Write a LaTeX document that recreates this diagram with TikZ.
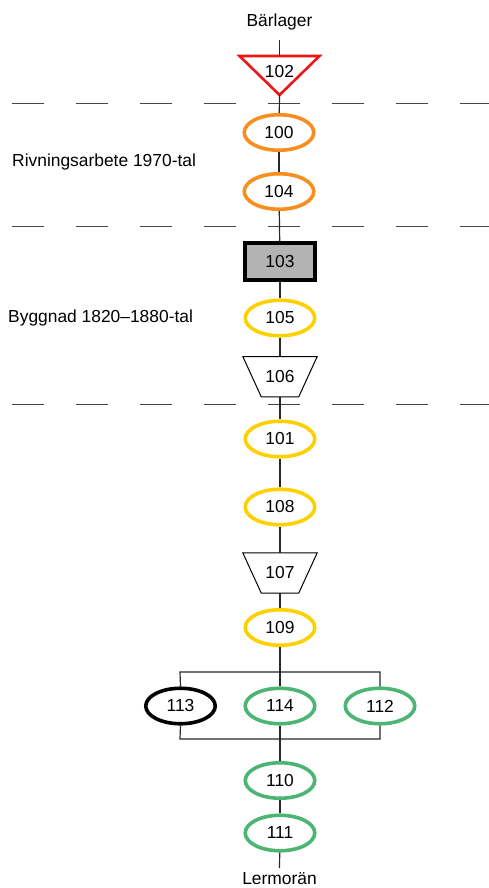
\documentclass[tikz,border=0pt]{standalone}
\usepackage{fontspec}
\setmainfont{Liberation Sans}
\usetikzlibrary{shapes.geometric,calc}
\definecolor{cOrange}{RGB}{247,142,30}
\definecolor{cYellow}{RGB}{255,208,0}
\definecolor{cGreen}{RGB}{76,181,115}
\definecolor{cRed}{RGB}{240,20,20}
\definecolor{cFill}{RGB}{179,179,179}
\definecolor{cLine}{RGB}{40,40,40}
\definecolor{cDash}{RGB}{70,70,70}
\begin{document}
\begin{tikzpicture}[x=1pt,y=-1pt,
  every node/.style={font=\fontsize{17.4}{20}\selectfont, inner sep=0pt},
  ell/.style={ellipse, draw, line width=3.6pt, minimum width=69.5pt, minimum height=35.5pt},
  orangeell/.style={ell, draw=cOrange},
  yellowell/.style={ell, draw=cYellow},
  greenell/.style={ell, draw=cGreen},
  blackell/.style={ell, draw=black},
  conn/.style={draw=cLine, line width=1.2pt},
  sep/.style={draw=cDash, line width=1pt, dash pattern=on 32pt off 32pt},
  trapbox/.style={minimum width=74pt, minimum height=40pt},
  trapline/.style={draw=black, line width=1pt}]
\useasboundingbox (0,0) rectangle (489,888);

% separators
\draw[sep] (12,104) -- (489,104);
\draw[sep] (12,226) -- (489,226);
\draw[sep] (12,404) -- (489,404);

% labels
\node[anchor=base] (top) at (279.5,27) {Bärlager};
\node[anchor=base] (bot) at (279.5,884.5) {Lermorän};
\node[anchor=base west] (lab1) at (12,166) {Rivningsarbete 1970-tal};
\node[anchor=base west] (lab2) at (8,322) {Byggnad 1820–1880-tal};

% triangle 102
\coordinate (t102top) at (279.5,56);
\coordinate (t102apex) at (279.5,95);
\draw[draw=cRed, line width=2.6pt, line join=miter] (239.5,56) -- (319.5,56) -- (t102apex) -- cycle;
\node (n102) at (279.5,71.5) {102};

% nodes
\node[orangeell] (n100) at (279,132.5) {100};
\node[orangeell] (n104) at (279,191.5) {104};
\node[draw=black, line width=4pt, fill=cFill, minimum width=70pt, minimum height=37pt] (n103) at (280,261.5) {103};
\node[yellowell] (n105) at (280,318) {105};
\node[trapbox] (n106) at (280,376.7) {106};
\draw[trapline] (n106.north west) -- (n106.north east) -- ($(n106.south east)+(-18.5,0)$) -- ($(n106.south west)+(18.5,0)$) -- cycle;
\node[yellowell] (n101) at (280,439) {101};
\node[yellowell] (n108) at (280,507) {108};
\node[trapbox] (n107) at (280,573) {107};
\draw[trapline] (n107.north west) -- (n107.north east) -- ($(n107.south east)+(-18.5,0)$) -- ($(n107.south west)+(18.5,0)$) -- cycle;
\node[yellowell] (n109) at (280,627.5) {109};
\node[blackell] (n113) at (180.5,706) {113};
\node[greenell] (n114) at (280,706) {114};
\node[greenell] (n112) at (380,706) {112};
\node[greenell] (n110) at (280,780.5) {110};
\node[greenell] (n111) at (280,833) {111};

\coordinate (gTL) at (180,672);
\coordinate (gTR) at (380,672);
\coordinate (gBL) at (180,739);
\coordinate (gBR) at (380,739);
\coordinate (bend) at (279.5,868);
\coordinate (tstart) at (279.5,40);

% connectors
\draw[conn] (tstart) -- (t102top);
\draw[conn] (t102apex) -- (n100);
\draw[conn] (n100) -- (n104);
\draw[conn] (n104) -- (n103);
\draw[conn] (n103) -- (n105);
\draw[conn] (n105) -- (n106.north);
\draw[conn] (n106.south) -- (n101);
\draw[conn] (n101) -- (n108);
\draw[conn] (n108) -- (n107.north);
\draw[conn] (n107.south) -- (n109);
\draw[conn, line width=1.8pt] (n109) -- (n114);
\draw[conn] (n113.north) -- (gTL) -- (gTR) -- (n112.north);
\draw[conn] (n113.south) -- (gBL) -- (gBR) -- (n112.south);
\draw[conn, line width=1.8pt] (n114) -- (n110);
\draw[conn] (n110) -- (n111);
\draw[conn] (n111) -- (bend);
\end{tikzpicture}
\end{document}
